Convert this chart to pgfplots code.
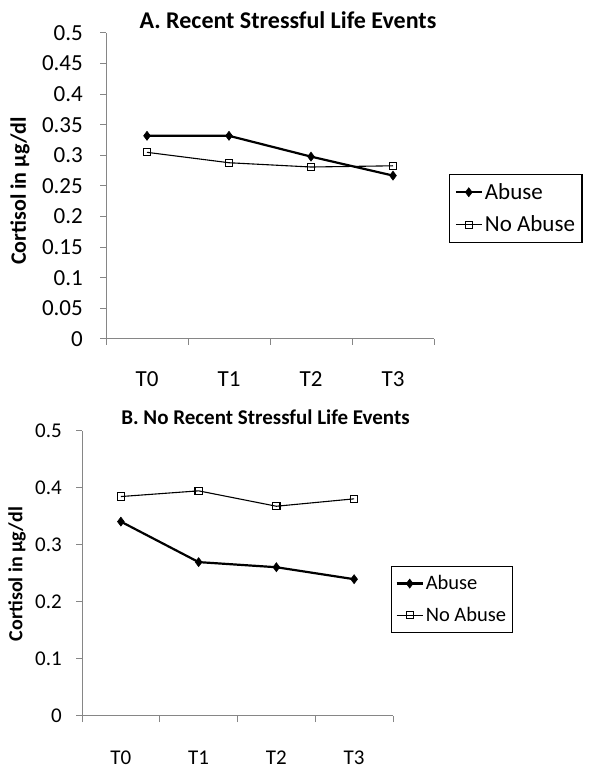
\documentclass[border=0pt]{standalone}
\usepackage{pgfplots}
\pgfplotsset{compat=1.18}
\usepackage{fontspec}
\setmainfont{Carlito}
\definecolor{axgray}{RGB}{134,134,134}
\pgfplotsset{
  excelaxis/.style={
    scale only axis, clip=false,
    xmin=-0.5, xmax=3.5, ymin=0, ymax=0.5,
    axis x line*=bottom, axis y line*=left,
    axis line style={draw=axgray, line width=1pt, -},
    xtick={0,1,2,3}, xticklabels={T0,T1,T2,T3},
    minor xtick={-0.5,0.5,1.5,2.5,3.5},
    major x tick style={draw=none},
    minor x tick style={draw=axgray, line width=1pt},
    ytick style={draw=axgray, line width=1pt},
    tick align=outside, major tick length=6pt, minor tick length=6pt,
    /pgf/number format/assume math mode=true,
    legend cell align=left,
    legend image code/.code={\draw[mark repeat=2,mark phase=2] plot coordinates {(0pt,0pt) (13pt,0pt) (26pt,0pt)};},
  },
  abusestyle/.style={draw=black, line width=2.2pt, mark=diamond*, mark size=4.5pt, mark options={solid, fill=black, line width=0.6pt}},
  noabusestyle/.style={draw=black, line width=1.1pt, mark=square, mark size=3.6pt, mark options={solid, fill=white, line width=1.1pt}},
}
\begin{document}
\begin{tikzpicture}
\path[use as bounding box] (0,0) rectangle (602pt,776pt);

\begin{axis}[excelaxis,
  at={(106pt,437pt)}, anchor=south west,
  width=328pt, height=306pt,
  ytick={0,0.05,0.1,0.15,0.2,0.25,0.3,0.35,0.4,0.45,0.5},
  yticklabels={0,0.05,0.1,0.15,0.2,0.25,0.3,0.35,0.4,0.45,0.5},
  ticklabel style={font=\fontsize{23}{26}\selectfont, inner sep=0pt},
  xticklabel style={anchor=base, yshift=-42pt},
  yticklabel style={xshift=-17pt},
  legend style={at={(1.046,0.4265)}, anchor=west, draw=black, line width=1.2pt,
    font=\fontsize{23}{26}\selectfont, row sep=11pt, inner xsep=5pt, inner ysep=7pt},
]
\addplot[abusestyle] coordinates {(0,0.332) (1,0.332) (2,0.298) (3,0.267)};
\addlegendentry{Abuse}
\addplot[noabusestyle] coordinates {(0,0.305) (1,0.288) (2,0.281) (3,0.283)};
\addlegendentry{No Abuse}
\end{axis}

\begin{axis}[excelaxis,
  at={(82pt,60pt)}, anchor=south west,
  width=311pt, height=285pt,
  ytick={0,0.1,0.2,0.3,0.4,0.5},
  yticklabels={0,0.1,0.2,0.3,0.4,0.5},
  ticklabel style={font=\fontsize{21}{24}\selectfont, inner sep=0pt},
  xticklabel style={anchor=base, yshift=-42pt},
  yticklabel style={xshift=-14pt},
  legend style={at={(0.9936,0.409)}, anchor=west, draw=black, line width=1.2pt,
    font=\fontsize{20.5}{24}\selectfont, row sep=12pt, inner xsep=4pt, inner ysep=7pt},
]
\addplot[abusestyle] coordinates {(0,0.341) (1,0.270) (2,0.261) (3,0.240)};
\addlegendentry{Abuse}
\addplot[noabusestyle] coordinates {(0,0.385) (1,0.395) (2,0.368) (3,0.381)};
\addlegendentry{No Abuse}
\end{axis}

\node[font=\bfseries\fontsize{24}{28}\selectfont] at (288pt,756pt) {A. Recent Stressful Life Events};
\node[font=\bfseries\fontsize{21}{25}\selectfont] at (265.5pt,359pt) {B. No Recent Stressful Life Events};
\node[rotate=90, font=\bfseries\fontsize{22}{26}\selectfont] at (20pt,585pt) {Cortisol in µg/dl};
\node[rotate=90, font=\bfseries\fontsize{20}{24}\selectfont] at (17pt,202pt) {Cortisol in µg/dl};
\end{tikzpicture}
\end{document}
